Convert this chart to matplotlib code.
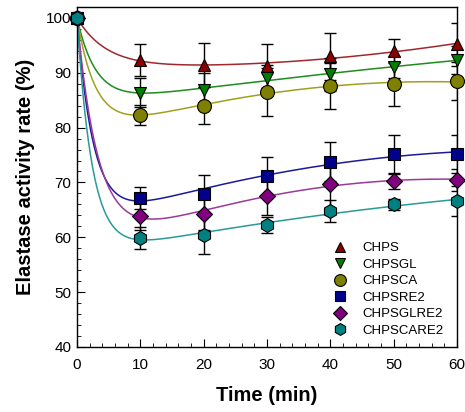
import numpy as np
import matplotlib.pyplot as plt
from matplotlib.ticker import MultipleLocator

plt.rcParams['font.family'] = ['Liberation Sans', 'DejaVu Sans']

time = [0, 10, 20, 30, 40, 50, 60]
labels = ['CHPS', 'CHPSGL', 'CHPSCA', 'CHPSRE2', 'CHPSGLRE2', 'CHPSCARE2']

chps = [100, 92.3, 91.4, 91.3, 93.0, 94.0, 95.2]
chps_err = [0, 2.9, 4.0, 4.0, 4.3, 2.2, 3.9]
chpsgl = [100, 86.4, 86.9, 89.0, 89.7, 91.1, 92.3]
chpsgl_err = [0, 2.6, 3.0, 2.5, 3.0, 2.0, 2.5]
chpsca = [100, 82.3, 84.0, 86.5, 87.6, 87.9, 88.5]
chpsca_err = [0, 1.9, 3.4, 4.3, 4.2, 4.0, 3.5]
chpsre2 = [100, 67.2, 67.9, 71.2, 73.8, 75.1, 75.2]
chpsre2_err = [0, 2.0, 3.5, 3.5, 3.6, 3.5, 3.5]
chpsglre2 = [100, 63.9, 64.3, 67.5, 69.7, 70.3, 70.5]
chpsglre2_err = [0, 2.5, 3.0, 3.5, 4.5, 1.5, 2.0]
chpscare2 = [100, 59.9, 60.4, 62.2, 64.8, 66.0, 66.6]
chpscare2_err = [0, 2.0, 3.5, 1.5, 2.0, 1.0, 2.8]

series = [chps, chpsgl, chpsca, chpsre2, chpsglre2, chpscare2]
errors = [chps_err, chpsgl_err, chpsca_err, chpsre2_err, chpsglre2_err, chpscare2_err]
markers = ['^', 'v', 'o', 's', 'D', 'h']
fills = ['#8B0000', '#008000', '#808000', '#00008B', '#800080', '#008080']
lines = ['#A0282D', '#1E8C1E', '#A0A020', '#1A1A9A', '#9A3A9A', '#2A9A9A']
sizes = [9, 9, 10, 9, 8, 10]
taus = [4.5, 3.0, 3.0, 2.6, 3.4, 2.4]


def fit_curve(t, y, tau=3.0):
    # smooth fit: exponential drop + quadratic drift
    t = np.array(t, dtype=float)
    y = np.array(y, dtype=float)
    A = np.column_stack([np.ones_like(t), np.exp(-t / tau), t, t ** 2])
    coef = np.linalg.lstsq(A, y, rcond=None)[0]
    tt = np.linspace(0, 60, 400)
    B = np.column_stack([np.ones_like(tt), np.exp(-tt / tau), tt, tt ** 2])
    return tt, B @ coef


fig = plt.figure(figsize=(4.65, 4.12), dpi=100)
ax = fig.add_axes([0.1656, 0.158, 0.8174, 0.825])

for i in range(len(series)):
    tt, yy = fit_curve(time, series[i], taus[i])
    ax.plot(tt, yy, color=lines[i], lw=1.1, zorder=2)
    ax.errorbar(time, series[i], yerr=errors[i], fmt='none', ecolor='black',
                elinewidth=1.0, capsize=4.5, capthick=1.0, zorder=3)

handles = []
for i in range(len(series)):
    h = ax.plot(time, series[i], linestyle='none', marker=markers[i],
                markersize=sizes[i], markerfacecolor=fills[i],
                markeredgecolor='black', markeredgewidth=0.8,
                label=labels[i], clip_on=False, zorder=4)[0]
    handles.append(h)

ax.set_xlim(0, 60)
ax.set_ylim(40, 102)
ax.xaxis.set_major_locator(MultipleLocator(10))
ax.xaxis.set_minor_locator(MultipleLocator(2))
ax.yaxis.set_major_locator(MultipleLocator(10))
ax.yaxis.set_minor_locator(MultipleLocator(2))
ax.tick_params(which='both', direction='in', top=False, right=False,
               labelsize=11)
ax.tick_params(axis='x', which='major', pad=8)
ax.tick_params(axis='y', which='major', pad=4)
ax.tick_params(which='major', length=6)
ax.tick_params(which='minor', length=3)
for s in ax.spines.values():
    s.set_linewidth(1.0)

ax.set_xlabel('Time (min)', fontsize=14.5, fontweight='bold', labelpad=10)
ax.set_ylabel('Elastase activity rate (%)', fontsize=14.5, fontweight='bold',
              labelpad=8)

ax.legend(handles=handles, loc='lower right', bbox_to_anchor=(0.995, -0.005),
          frameon=False, fontsize=9.5, handletextpad=1.2, labelspacing=0.32,
          markerscale=0.85, handlelength=1.0)

fig.savefig('out.png', dpi=100)
